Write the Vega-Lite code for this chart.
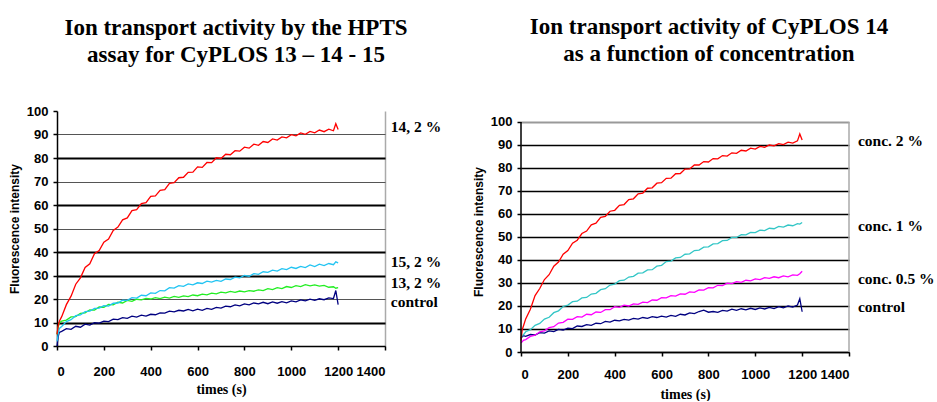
{
  "$schema": "https://vega.github.io/schema/vega-lite/v6.json",
  "background": "white",
  "padding": {"left": 8, "top": 16, "right": 0, "bottom": 0},
  "spacing": 30,
  "resolve": {"scale": {"color": "independent"}},
  "config": {
    "view": {"stroke": null},
    "title": {"font": "Liberation Serif", "fontWeight": "bold", "fontSize": 23, "lineHeight": 27, "color": "black", "anchor": "middle", "frame": "group"},
    "axis": {
      "labelFont": "Liberation Sans", "labelFontWeight": "bold", "labelFontSize": 13, "labelColor": "black",
      "titleColor": "black", "domainColor": "black", "domainWidth": 1.5, "tickColor": "black", "tickSize": 4, "tickWidth": 1.5
    }
  },
  "hconcat": [
    {
      "width": 328,
      "height": 235,
      "title": {"text": ["Ion transport activity by the HPTS", "assay for CyPLOS 13 – 14 - 15"], "dx": 15, "offset": 38},
      "encoding": {
        "x": {"field": "t", "type": "quantitative", "scale": {"domain": [0, 1400], "nice": false},
          "axis": {"values": [0,200,400,600,800,1000,1200,1400], "format": "d", "labelOverlap": false, "title": "times (s)", "titleFont": "Liberation Serif", "titleFontWeight": "bold", "titleFontSize": 14, "titlePadding": 4, "labelPadding": 15,
            "grid": true, "gridColor": "#aaaaaa", "gridWidth": 1.5, "gridOpacity": {"condition": {"test": "datum.value == 1400", "value": 1}, "value": 0}}},
        "y": {"field": "v", "type": "quantitative", "scale": {"domain": [0, 100], "nice": false},
          "axis": {"values": [0,10,20,30,40,50,60,70,80,90,100], "format": "d", "labelOverlap": false, "title": "Fluorescence intensity", "titleFont": "Liberation Sans", "titleFontWeight": "bold", "titleFontSize": 12, "titlePadding": 5, "labelPadding": 5,
            "grid": true,
            "gridColor": {"condition": {"test": "indexof([10,30,40,60,80], datum.value) >= 0", "value": "black"}, "value": "#555555"},
            "gridWidth": {"condition": {"test": "indexof([10,30,40,60,80], datum.value) >= 0", "value": 2.2}, "value": 1.2},
            "gridOpacity": {"condition": {"test": "datum.value == 100", "value": 0}, "value": 1}}}
      },
      "layer": [
        {
          "data": {"values": [
            {"t":0,"r":5,"c":2,"g":5,"n":0},
            {"t":5,"r":8.5,"c":5,"g":8,"n":4},
            {"t":10,"r":10.5,"c":7.5,"g":9.8,"n":5.8},
            {"t":20,"r":12.5,"c":8.3,"g":10.6,"n":6.2},
            {"t":40,"r":17.6,"c":10.4,"g":11.0,"n":7.4},
            {"t":60,"r":21.2,"c":11.2,"g":12.4,"n":7.1},
            {"t":80,"r":26.3,"c":12.9,"g":12.5,"n":8.4},
            {"t":100,"r":29.0,"c":13.2,"g":13.9,"n":8.0},
            {"t":120,"r":33.4,"c":14.6,"g":14.1,"n":9.3},
            {"t":140,"r":35.0,"c":14.8,"g":15.4,"n":8.9},
            {"t":160,"r":39.3,"c":16.0,"g":15.3,"n":9.9},
            {"t":180,"r":40.6,"c":16.1,"g":16.6,"n":9.7},
            {"t":200,"r":44.2,"c":17.2,"g":16.5,"n":10.6},
            {"t":220,"r":45.5,"c":17.0,"g":17.7,"n":10.4},
            {"t":240,"r":49.2,"c":18.2,"g":17.5,"n":11.4},
            {"t":260,"r":50.6,"c":18.3,"g":18.6,"n":11.2},
            {"t":280,"r":53.7,"c":19.5,"g":18.3,"n":12.1},
            {"t":300,"r":54.5,"c":19.4,"g":19.4,"n":11.8},
            {"t":320,"r":57.6,"c":20.6,"g":19.0,"n":12.7},
            {"t":340,"r":58.0,"c":20.4,"g":19.9,"n":12.3},
            {"t":360,"r":60.6,"c":21.6,"g":19.6,"n":13.1},
            {"t":380,"r":61.0,"c":21.4,"g":20.3,"n":12.7},
            {"t":400,"r":63.7,"c":22.6,"g":20.0,"n":13.5},
            {"t":420,"r":63.9,"c":22.4,"g":20.6,"n":13.3},
            {"t":440,"r":66.2,"c":23.6,"g":20.2,"n":14.1},
            {"t":460,"r":66.5,"c":23.5,"g":20.8,"n":14.0},
            {"t":480,"r":69.2,"c":24.8,"g":20.4,"n":14.8},
            {"t":500,"r":69.5,"c":24.6,"g":21.1,"n":14.5},
            {"t":520,"r":71.6,"c":25.7,"g":20.7,"n":15.2},
            {"t":540,"r":71.8,"c":25.4,"g":21.3,"n":14.9},
            {"t":560,"r":73.9,"c":26.4,"g":21.0,"n":15.6},
            {"t":580,"r":74.0,"c":26.0,"g":21.7,"n":15.0},
            {"t":600,"r":76.2,"c":26.9,"g":21.4,"n":15.7},
            {"t":620,"r":76.0,"c":26.6,"g":22.1,"n":15.2},
            {"t":640,"r":78.1,"c":27.6,"g":21.8,"n":16.0},
            {"t":660,"r":78.0,"c":27.2,"g":22.5,"n":15.6},
            {"t":680,"r":80.1,"c":27.9,"g":22.2,"n":16.4},
            {"t":700,"r":79.8,"c":27.5,"g":22.9,"n":16.1},
            {"t":720,"r":81.6,"c":28.5,"g":22.6,"n":17.0},
            {"t":740,"r":81.4,"c":28.3,"g":23.2,"n":16.7},
            {"t":760,"r":83.1,"c":29.3,"g":22.8,"n":17.5},
            {"t":780,"r":82.9,"c":29.0,"g":23.4,"n":17.1},
            {"t":800,"r":84.6,"c":30.0,"g":23.0,"n":17.9},
            {"t":820,"r":84.2,"c":29.7,"g":23.6,"n":17.5},
            {"t":840,"r":85.9,"c":30.8,"g":23.3,"n":18.3},
            {"t":860,"r":85.4,"c":30.5,"g":23.9,"n":17.9},
            {"t":880,"r":87.0,"c":31.6,"g":23.6,"n":18.6},
            {"t":900,"r":86.6,"c":31.3,"g":24.4,"n":18.0},
            {"t":920,"r":88.1,"c":32.3,"g":24.0,"n":18.8},
            {"t":940,"r":87.6,"c":31.9,"g":24.8,"n":18.2},
            {"t":960,"r":89.0,"c":32.9,"g":24.4,"n":18.9},
            {"t":980,"r":88.6,"c":32.5,"g":25.3,"n":18.4},
            {"t":1000,"r":89.9,"c":33.5,"g":24.9,"n":19.2},
            {"t":1020,"r":89.4,"c":33.0,"g":25.7,"n":18.8},
            {"t":1040,"r":90.7,"c":33.9,"g":25.3,"n":19.6},
            {"t":1060,"r":90.1,"c":33.4,"g":26.1,"n":19.2},
            {"t":1080,"r":91.3,"c":34.5,"g":25.6,"n":19.9},
            {"t":1100,"r":90.7,"c":33.8,"g":26.0,"n":19.4},
            {"t":1120,"r":91.9,"c":34.8,"g":25.5,"n":20.1},
            {"t":1140,"r":91.2,"c":34.2,"g":25.8,"n":19.7},
            {"t":1160,"r":92.3,"c":35.1,"g":25.0,"n":20.5},
            {"t":1180,"r":91.6,"c":34.6,"g":25.2,"n":20.2},
            {"t":1190,"r":94.6,"c":35.8,"g":24.6,"n":23.6},
            {"t":1200,"r":92.1,"c":35.4,"g":24.8,"n":17.6}
          ]},
          "transform": [{"fold": ["n", "g", "c", "r"], "as": ["s", "v"]}],
          "mark": {"type": "line", "strokeWidth": 1.3},
          "encoding": {
            "color": {"field": "s", "type": "nominal", "scale": {"domain": ["r", "c", "g", "n"], "range": ["#ff0000", "#22c4f2", "#22ee22", "#000080"]}, "legend": null}
          }
        },
        {
          "data": {"values": [
            {"t": 1425, "v": 93.2, "label": "14, 2 %"},
            {"t": 1425, "v": 35.7, "label": "15, 2 %"},
            {"t": 1425, "v": 26.8, "label": "13, 2 %"},
            {"t": 1425, "v": 18.7, "label": "control"}
          ]},
          "mark": {"type": "text", "align": "left", "baseline": "middle", "font": "Liberation Serif", "fontWeight": "bold", "fontSize": 15.5, "color": "black", "clip": false},
          "encoding": {
            "text": {"field": "label"}
          }
        }
      ]
    },
    {
      "width": 328,
      "height": 241,
      "title": {"text": ["Ion transport activity of CyPLOS 14", "as a function of concentration"], "dx": 24, "offset": 45},
      "encoding": {
        "x": {"field": "t", "type": "quantitative", "scale": {"domain": [0, 1400], "nice": false},
          "axis": {"values": [0,200,400,600,800,1000,1200,1400], "format": "d", "labelOverlap": false, "title": "times (s)", "titleFont": "Liberation Serif", "titleFontWeight": "bold", "titleFontSize": 14, "titlePadding": 6, "labelPadding": 12, "grid": false}},
        "y": {"field": "v", "type": "quantitative", "scale": {"domain": [0, 104.78], "nice": false},
          "axis": {"values": [0,10,20,30,40,50,60,70,80,90,100], "format": "d", "labelOverlap": false, "domain": false, "title": "Fluorescence intensity", "titleFont": "Liberation Sans", "titleFontWeight": "bold", "titleFontSize": 12, "titlePadding": 5, "labelPadding": 5,
            "grid": true,
            "gridColor": {"condition": {"test": "datum.value == 100", "value": "#999999"}, "value": "black"},
            "gridWidth": {"condition": {"test": "datum.value == 100", "value": 2}, "value": 1.5}}}
      },
      "layer": [
        {
          "data": {"values": [{"t": 1400, "v": 0, "v2": 100}]},
          "mark": {"type": "rule", "color": "#aaaaaa", "strokeWidth": 1.5},
          "encoding": {"y2": {"field": "v2"}}
        },
        {
          "data": {"values": [
            {"t":0,"r":5,"c":6,"m":4,"n":6},
            {"t":5,"r":9.6,"c":7.2,"m":4.4,"n":6.6},
            {"t":10,"r":11.2,"c":7.4,"m":5.1,"n":7.1},
            {"t":20,"r":14.4,"c":8.8,"m":5.4,"n":6.8},
            {"t":40,"r":18.6,"c":9.7,"m":6.8,"n":7.6},
            {"t":60,"r":24.5,"c":11.6,"m":7.3,"n":7.4},
            {"t":80,"r":27.6,"c":12.4,"m":8.8,"n":8.4},
            {"t":100,"r":31.5,"c":14.3,"m":9.2,"n":8.2},
            {"t":120,"r":33.6,"c":15.1,"m":10.6,"n":9.2},
            {"t":140,"r":37.3,"c":17.1,"m":11.0,"n":8.9},
            {"t":160,"r":39.1,"c":17.9,"m":12.6,"n":9.8},
            {"t":180,"r":42.5,"c":19.8,"m":12.9,"n":9.5},
            {"t":200,"r":44.1,"c":20.4,"m":14.3,"n":10.4},
            {"t":220,"r":47.3,"c":21.9,"m":14.2,"n":10.2},
            {"t":240,"r":48.6,"c":22.1,"m":15.4,"n":11.3},
            {"t":260,"r":51.5,"c":23.5,"m":15.2,"n":11.1},
            {"t":280,"r":52.6,"c":23.7,"m":16.4,"n":11.9},
            {"t":300,"r":55.3,"c":25.2,"m":16.2,"n":11.6},
            {"t":320,"r":56.0,"c":25.5,"m":17.4,"n":12.5},
            {"t":340,"r":58.5,"c":27.1,"m":17.2,"n":12.3},
            {"t":360,"r":59.0,"c":27.5,"m":18.4,"n":13.3},
            {"t":380,"r":61.2,"c":29.1,"m":18.4,"n":13.0},
            {"t":400,"r":61.6,"c":29.5,"m":19.7,"n":13.8},
            {"t":420,"r":63.8,"c":31.0,"m":19.4,"n":13.5},
            {"t":440,"r":64.1,"c":31.2,"m":20.4,"n":14.2},
            {"t":460,"r":66.3,"c":32.6,"m":20.0,"n":13.9},
            {"t":480,"r":66.6,"c":32.9,"m":20.9,"n":14.6},
            {"t":500,"r":68.8,"c":34.3,"m":20.7,"n":14.3},
            {"t":520,"r":69.1,"c":34.4,"m":21.7,"n":15.0},
            {"t":540,"r":71.2,"c":35.7,"m":21.5,"n":14.6},
            {"t":560,"r":71.4,"c":35.8,"m":22.6,"n":15.4},
            {"t":580,"r":73.4,"c":37.3,"m":22.5,"n":15.0},
            {"t":600,"r":73.6,"c":37.7,"m":23.6,"n":15.6},
            {"t":620,"r":75.5,"c":39.3,"m":23.5,"n":15.2},
            {"t":640,"r":75.6,"c":39.5,"m":24.5,"n":15.9},
            {"t":660,"r":77.5,"c":40.9,"m":24.3,"n":15.5},
            {"t":680,"r":77.6,"c":41.1,"m":25.3,"n":16.4},
            {"t":700,"r":79.5,"c":42.5,"m":25.1,"n":16.1},
            {"t":720,"r":79.6,"c":42.7,"m":26.1,"n":17.0},
            {"t":740,"r":81.3,"c":44.1,"m":25.9,"n":16.7},
            {"t":760,"r":81.3,"c":44.3,"m":27.0,"n":17.6},
            {"t":780,"r":82.8,"c":45.6,"m":26.9,"n":18.2},
            {"t":800,"r":82.6,"c":45.7,"m":28.0,"n":17.3},
            {"t":820,"r":84.1,"c":47.0,"m":27.9,"n":17.6},
            {"t":840,"r":84.0,"c":47.1,"m":29.0,"n":17.2},
            {"t":860,"r":85.4,"c":48.4,"m":28.9,"n":18.1},
            {"t":880,"r":85.2,"c":48.5,"m":29.9,"n":17.8},
            {"t":900,"r":86.6,"c":49.8,"m":29.7,"n":18.6},
            {"t":920,"r":86.4,"c":49.8,"m":30.6,"n":18.1},
            {"t":940,"r":87.7,"c":51.0,"m":30.3,"n":18.8},
            {"t":960,"r":87.4,"c":50.9,"m":31.2,"n":18.3},
            {"t":980,"r":88.6,"c":52.0,"m":30.9,"n":19.0},
            {"t":1000,"r":88.2,"c":51.9,"m":31.8,"n":18.5},
            {"t":1020,"r":89.4,"c":53.0,"m":31.5,"n":19.2},
            {"t":1040,"r":89.0,"c":52.8,"m":32.3,"n":18.7},
            {"t":1060,"r":90.0,"c":53.8,"m":32.0,"n":19.4},
            {"t":1080,"r":89.6,"c":53.6,"m":32.7,"n":18.9},
            {"t":1100,"r":90.6,"c":54.6,"m":32.3,"n":19.7},
            {"t":1120,"r":90.2,"c":54.3,"m":33.1,"n":19.2},
            {"t":1140,"r":91.2,"c":55.2,"m":32.7,"n":20.0},
            {"t":1160,"r":90.8,"c":54.9,"m":33.5,"n":19.5},
            {"t":1180,"r":91.8,"c":55.8,"m":33.3,"n":20.4},
            {"t":1190,"r":94.8,"c":55.6,"m":34.0,"n":23.2},
            {"t":1200,"r":92.2,"c":56.3,"m":35.1,"n":17.5}
          ]},
          "transform": [{"fold": ["n", "m", "c", "r"], "as": ["s", "v"]}],
          "mark": {"type": "line", "strokeWidth": 1.3},
          "encoding": {
            "color": {"field": "s", "type": "nominal", "scale": {"domain": ["r", "c", "m", "n"], "range": ["#ff0000", "#33c6c6", "#ff00ff", "#000080"]}, "legend": null}
          }
        },
        {
          "data": {"values": [{"t": 0, "v": 0, "v2": 100}]},
          "mark": {"type": "rule", "color": "black", "strokeWidth": 1.5},
          "encoding": {"y2": {"field": "v2"}}
        },
        {
          "data": {"values": [
            {"t": 1438, "v": 91.7, "label": "conc. 2 %"},
            {"t": 1438, "v": 54.8, "label": "conc. 1 %"},
            {"t": 1438, "v": 31.7, "label": "conc. 0.5 %"},
            {"t": 1438, "v": 19.6, "label": "control"}
          ]},
          "mark": {"type": "text", "align": "left", "baseline": "middle", "font": "Liberation Serif", "fontWeight": "bold", "fontSize": 15.5, "color": "black", "clip": false},
          "encoding": {
            "text": {"field": "label"}
          }
        }
      ]
    }
  ]
}
